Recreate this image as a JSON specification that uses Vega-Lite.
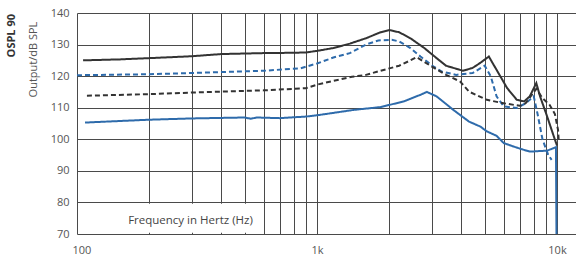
{
  "$schema": "https://vega.github.io/schema/vega-lite/v6.json",
  "width": 499,
  "height": 221,
  "autosize": {"type": "none"},
  "padding": {"left": 77, "top": 13, "right": 0, "bottom": 26},
  "background": "white",
  "title": {"text": "OSPL 90", "orient": "left", "anchor": "end", "offset": 10, "dx": -7, "fontSize": 11, "fontWeight": "bold", "color": "#333333", "font": "Open Sans"},
  "config": {"view": {"stroke": null}, "font": "Open Sans"},
  "datasets": {
    "box": [{"f": 110, "f2": 560, "db": 70.4, "db2": 79.6}],
    "note": [{"f": 297, "db": 74.1, "label": "Frequency in Hertz (Hz)"}],
    "curves": [
      {"s": "A", "f": 106, "db": 125.0}, {"s": "A", "f": 150, "db": 125.3}, {"s": "A", "f": 200, "db": 125.7}, {"s": "A", "f": 300, "db": 126.3}, {"s": "A", "f": 400, "db": 127.0}, {"s": "A", "f": 600, "db": 127.3}, {"s": "A", "f": 800, "db": 127.4}, {"s": "A", "f": 900, "db": 127.5}, {"s": "A", "f": 1000, "db": 128.0}, {"s": "A", "f": 1170, "db": 128.9}, {"s": "A", "f": 1370, "db": 130.3}, {"s": "A", "f": 1600, "db": 132.0}, {"s": "A", "f": 1840, "db": 133.9}, {"s": "A", "f": 2000, "db": 134.6}, {"s": "A", "f": 2200, "db": 133.9}, {"s": "A", "f": 2450, "db": 132.0}, {"s": "A", "f": 2800, "db": 128.9}, {"s": "A", "f": 3150, "db": 125.7}, {"s": "A", "f": 3450, "db": 123.3}, {"s": "A", "f": 4060, "db": 121.7}, {"s": "A", "f": 4450, "db": 122.6}, {"s": "A", "f": 4770, "db": 124.1}, {"s": "A", "f": 5200, "db": 126.2}, {"s": "A", "f": 5600, "db": 122.0}, {"s": "A", "f": 6200, "db": 116.2}, {"s": "A", "f": 6800, "db": 112.5}, {"s": "A", "f": 7300, "db": 112.0}, {"s": "A", "f": 7700, "db": 113.6}, {"s": "A", "f": 8200, "db": 117.8}, {"s": "A", "f": 8500, "db": 113.6}, {"s": "A", "f": 9100, "db": 107.2}, {"s": "A", "f": 9700, "db": 100.9}, {"s": "A", "f": 10000, "db": 98.0},
      {"s": "B", "f": 100, "db": 120.3}, {"s": "B", "f": 200, "db": 120.6}, {"s": "B", "f": 300, "db": 121.0}, {"s": "B", "f": 600, "db": 121.7}, {"s": "B", "f": 855, "db": 122.5}, {"s": "B", "f": 1000, "db": 124.0}, {"s": "B", "f": 1170, "db": 125.9}, {"s": "B", "f": 1370, "db": 127.3}, {"s": "B", "f": 1600, "db": 130.0}, {"s": "B", "f": 1800, "db": 131.3}, {"s": "B", "f": 2050, "db": 131.5}, {"s": "B", "f": 2200, "db": 131.0}, {"s": "B", "f": 2450, "db": 128.9}, {"s": "B", "f": 2700, "db": 126.2}, {"s": "B", "f": 3050, "db": 123.1}, {"s": "B", "f": 3300, "db": 121.5}, {"s": "B", "f": 3800, "db": 120.4}, {"s": "B", "f": 4450, "db": 121.0}, {"s": "B", "f": 5000, "db": 123.3}, {"s": "B", "f": 5300, "db": 119.9}, {"s": "B", "f": 5600, "db": 113.6}, {"s": "B", "f": 6000, "db": 110.4}, {"s": "B", "f": 6800, "db": 109.9}, {"s": "B", "f": 7400, "db": 111.4}, {"s": "B", "f": 8000, "db": 113.6}, {"s": "B", "f": 8300, "db": 108.0}, {"s": "B", "f": 8700, "db": 100.0}, {"s": "B", "f": 9200, "db": 95.0}, {"s": "B", "f": 9500, "db": 93.5},
      {"s": "C", "f": 110, "db": 113.8}, {"s": "C", "f": 200, "db": 114.3}, {"s": "C", "f": 300, "db": 114.8}, {"s": "C", "f": 600, "db": 115.5}, {"s": "C", "f": 900, "db": 116.2}, {"s": "C", "f": 1000, "db": 117.3}, {"s": "C", "f": 1170, "db": 118.5}, {"s": "C", "f": 1400, "db": 119.8}, {"s": "C", "f": 1600, "db": 120.4}, {"s": "C", "f": 1800, "db": 121.5}, {"s": "C", "f": 2200, "db": 123.3}, {"s": "C", "f": 2450, "db": 125.0}, {"s": "C", "f": 2600, "db": 126.0}, {"s": "C", "f": 2800, "db": 124.5}, {"s": "C", "f": 3000, "db": 123.1}, {"s": "C", "f": 3450, "db": 120.4}, {"s": "C", "f": 3950, "db": 118.3}, {"s": "C", "f": 4300, "db": 115.1}, {"s": "C", "f": 5100, "db": 112.5}, {"s": "C", "f": 6000, "db": 111.4}, {"s": "C", "f": 7000, "db": 110.6}, {"s": "C", "f": 7400, "db": 111.4}, {"s": "C", "f": 8200, "db": 116.0}, {"s": "C", "f": 8700, "db": 113.0}, {"s": "C", "f": 9300, "db": 111.0}, {"s": "C", "f": 9800, "db": 108.0}, {"s": "C", "f": 10100, "db": 103.0}, {"s": "C", "f": 10180, "db": 99.0},
      {"s": "D", "f": 108, "db": 105.3}, {"s": "D", "f": 200, "db": 106.2}, {"s": "D", "f": 300, "db": 106.6}, {"s": "D", "f": 500, "db": 106.9}, {"s": "D", "f": 530, "db": 106.5}, {"s": "D", "f": 560, "db": 106.9}, {"s": "D", "f": 700, "db": 106.7}, {"s": "D", "f": 900, "db": 107.2}, {"s": "D", "f": 1000, "db": 107.6}, {"s": "D", "f": 1420, "db": 109.3}, {"s": "D", "f": 1840, "db": 110.2}, {"s": "D", "f": 2300, "db": 112.0}, {"s": "D", "f": 2700, "db": 114.1}, {"s": "D", "f": 2870, "db": 115.0}, {"s": "D", "f": 3150, "db": 113.6}, {"s": "D", "f": 3700, "db": 109.3}, {"s": "D", "f": 4300, "db": 105.6}, {"s": "D", "f": 4800, "db": 104.0}, {"s": "D", "f": 5100, "db": 102.5}, {"s": "D", "f": 5600, "db": 101.1}, {"s": "D", "f": 6000, "db": 98.8}, {"s": "D", "f": 6600, "db": 97.7}, {"s": "D", "f": 7100, "db": 96.9}, {"s": "D", "f": 7700, "db": 96.1}, {"s": "D", "f": 9100, "db": 96.4}, {"s": "D", "f": 9900, "db": 97.5}, {"s": "D", "f": 9950, "db": 70.0}
    ]
  },
  "encoding": {
    "x": {
      "field": "f", "type": "quantitative",
      "scale": {"type": "log", "domain": [100, 12000], "nice": false},
      "title": null,
      "axis": {
        "values": [100, 200, 300, 400, 500, 600, 700, 800, 900, 1000, 2000, 3000, 4000, 5000, 6000, 7000, 8000, 9000, 10000],
        "labelExpr": "datum.value == 100 ? '100' : datum.value == 1000 ? '1k' : datum.value == 10000 ? '10k' : ''",
        "grid": true, "gridColor": "#4a4a4a", "gridWidth": 1, "gridOpacity": 1,
        "ticks": false, "domain": false,
        "labelFontSize": 11, "labelColor": "#555555", "labelPadding": 10, "labelFlush": true, "labelFlushOffset": 5
      }
    },
    "y": {
      "field": "db", "type": "quantitative",
      "scale": {"domain": [70, 140], "nice": false, "zero": false},
      "title": "Output/dB SPL",
      "axis": {
        "values": [70, 80, 90, 100, 110, 120, 130, 140],
        "grid": true, "gridColor": "#4a4a4a", "gridWidth": 1, "gridOpacity": 1,
        "ticks": false, "domain": false, "labelOverlap": false,
        "labelFontSize": 11, "labelColor": "#555555", "labelPadding": 8,
        "titleFontSize": 11, "titleFontWeight": "normal", "titleColor": "#555555",
        "titleX": -44, "titleY": 46, "titleBaseline": "middle", "titleAlign": "center", "titleAngle": -90
      }
    }
  },
  "layer": [
    {
      "data": {"name": "curves"},
      "mark": {"type": "line", "strokeWidth": 2, "clip": true},
      "encoding": {
        "color": {"field": "s", "type": "nominal", "scale": {"domain": ["A", "B", "C", "D"], "range": ["#333333", "#2e6bab", "#333333", "#2e6bab"]}, "legend": null},
        "strokeDash": {"field": "s", "type": "nominal", "scale": {"domain": ["A", "B", "C", "D"], "range": [[1, 0], [5, 3], [5, 3], [1, 0]]}, "legend": null}
      }
    },
    {
      "data": {"name": "box"},
      "mark": {"type": "rect", "fill": "white"},
      "encoding": {
        "x2": {"field": "f2"},
        "y2": {"field": "db2"}
      }
    },
    {
      "data": {"name": "note"},
      "mark": {"type": "text", "fontSize": 11.5, "color": "#444444", "align": "center", "baseline": "middle", "font": "Open Sans"},
      "encoding": {
        "text": {"field": "label", "type": "nominal"}
      }
    }
  ]
}
